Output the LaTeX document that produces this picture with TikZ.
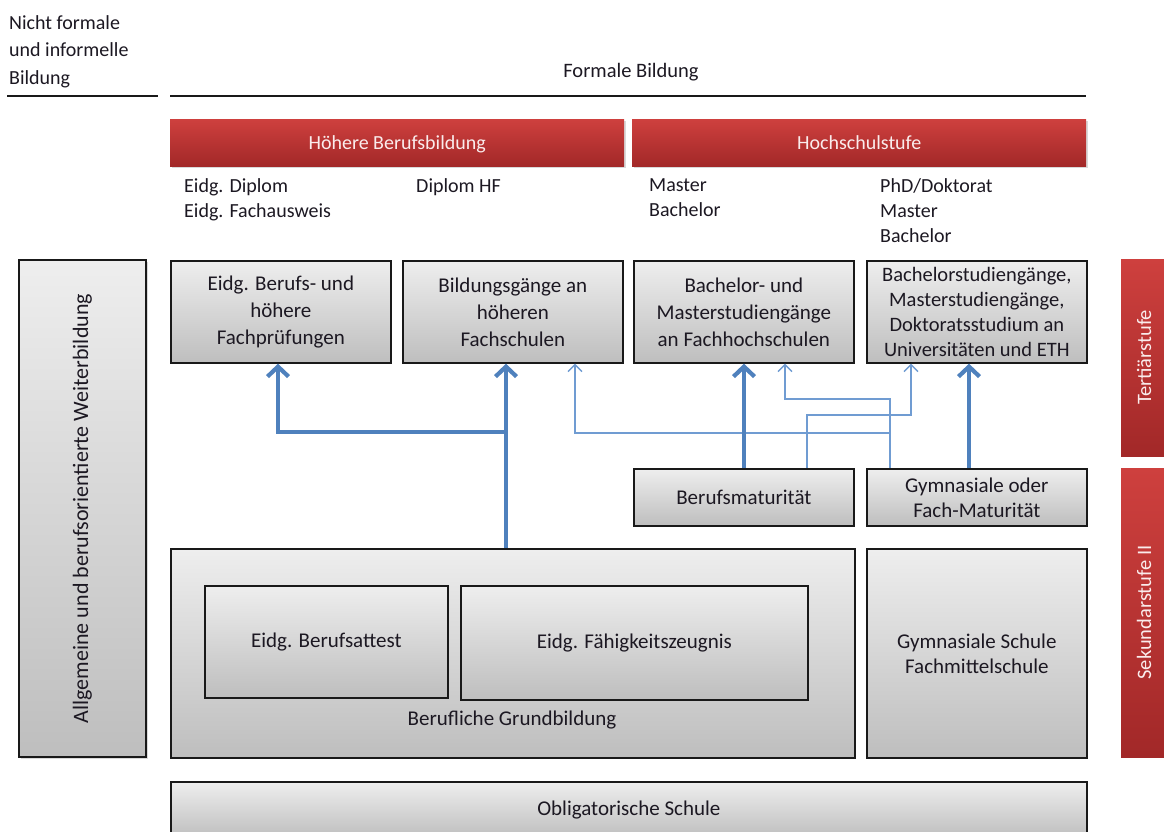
\documentclass[tikz,border=0pt]{standalone}
\usepackage{fontspec}
\setmainfont{Carlito}
\usetikzlibrary{arrows.meta,shadows,calc}
\definecolor{boxtop}{RGB}{238,238,238}
\definecolor{boxbot}{RGB}{190,190,190}
\definecolor{redtop}{RGB}{206,64,62}
\definecolor{redbot}{RGB}{162,40,40}
\definecolor{arrblue}{RGB}{79,129,189}
\definecolor{thinblue}{RGB}{112,156,210}
\definecolor{txt}{RGB}{28,24,34}
\definecolor{redtxt}{RGB}{250,236,236}
\begin{document}
\begin{tikzpicture}[x=1pt,y=-1pt,
  graybox/.style={draw=black!90, line width=1.7pt, top color=boxtop, bottom color=boxbot,
    drop shadow={shadow xshift=1.5pt, shadow yshift=-1.5pt, opacity=0.3},
    align=center, text=txt, font=\fontsize{21}{27}\selectfont, inner sep=0pt,
    minimum width=220pt, minimum height=102pt, anchor=north west},
  redbar/.style={draw=none, top color=redtop, bottom color=redbot,
    drop shadow={shadow xshift=1.5pt, shadow yshift=-1.5pt, opacity=0.3},
    text=redtxt, font=\fontsize{20}{25}\selectfont, inner sep=0pt, anchor=north west,
    text height=16pt, text depth=2pt,
    minimum width=454pt, minimum height=47pt},
  redtab/.style={draw=none, top color=redtop, bottom color=redbot, rotate=90,
    text=redtxt, font=\fontsize{20.5}{25}\selectfont, inner sep=0pt, minimum height=46pt},
  lbl/.style={align=left, text=txt, font=\fontsize{20}{25}\selectfont, inner sep=0pt, anchor=north west},
  thickarr/.style={draw=arrblue, line width=4.2pt, -{Straight Barb[length=10pt,width=21pt,line width=4.2pt]}},
  thinarr/.style={draw=thinblue, line width=1.5pt, -{Straight Barb[length=7pt,width=14pt,line width=1.3pt]}},
  rule/.style={draw=black!90, line width=1.4pt}
]
\useasboundingbox (0,0) rectangle (1164,832);

% headings
\node[lbl, font=\fontsize{20}{27.5}\selectfont] (nf) at (9,15) {Nicht formale\\und informelle\\Bildung};
\node[text=txt, font=\fontsize{20.5}{25}\selectfont, inner sep=0pt] (fb) at (631,72) {Formale Bildung};
\coordinate (r1a) at (7,96);
\coordinate (r1b) at (158,96);
\coordinate (r2a) at (170,96);
\coordinate (r2b) at (1086,96);
\draw[rule] (r1a) -- (r1b);
\draw[rule] (r2a) -- (r2b);

% red bars
\node[redbar] (hb) at (170,119) {Höhere Berufsbildung};
\node[redbar] (hs) at (632,119) {Hochschulstufe};

% labels under bars
\node[lbl] (l1) at (184,178) {Eidg. Diplom\\Eidg. Fachausweis};
\node[lbl] (l2) at (416,178) {Diplom HF};
\node[lbl] (l3) at (649,178) {Master\\Bachelor};
\node[lbl] (l4) at (880,178) {PhD/Doktorat\\Master\\Bachelor};

% tertiary boxes
\node[graybox] (b1) at (170,260) {Eidg. Berufs- und\\höhere\\Fachprüfungen};
\node[graybox] (b2) at (402,260) {Bildungsgänge an\\höheren\\Fachschulen};
\node[graybox] (b3) at (633,260) {Bachelor- und\\Masterstudiengänge\\an Fachhochschulen};
\node[graybox, font=\fontsize{20.5}{25}\selectfont] (b4) at (866,260) {Bachelorstudiengänge,\\Masterstudiengänge,\\Doktoratsstudium an\\Universitäten und ETH};

% left box
\node[graybox, anchor=center, rotate=90, minimum width=497pt, minimum height=127pt, font=\fontsize{22}{27}\selectfont] (wb) at (82.5,508.5) {Allgemeine und berufsorientierte Weiterbildung};

% maturity boxes
\node[graybox, minimum height=57pt, font=\fontsize{21}{25}\selectfont] (bm) at (633,468) {Berufsmaturität};
\node[graybox, minimum height=57pt, font=\fontsize{21}{25}\selectfont] (gm) at (866,468) {Gymnasiale oder\\Fach-Maturität};

% secondary II
\node[graybox, minimum width=684pt, minimum height=209pt] (gb) at (170,548) {};
\node[text=txt, font=\fontsize{21}{25}\selectfont, inner sep=0pt] (gbl) at (512,720) {Berufliche Grundbildung};
\node[graybox, minimum width=243pt, minimum height=112pt] (att) at (204,585) {Eidg. Berufsattest};
\node[graybox, minimum width=347pt, minimum height=114pt] (efz) at (460,585) {Eidg. Fähigkeitszeugnis};
\node[graybox, minimum height=209pt, font=\fontsize{21}{25}\selectfont] (gs) at (866,548) {Gymnasiale Schule\\Fachmittelschule};

% compulsory school
\node[graybox, minimum width=916pt, minimum height=56pt] (os) at (170,781) {Obligatorische Schule};

% right tabs
\node[redtab, minimum width=197pt] (tt) at (1144,357.5) {Tertiärstufe};
\node[redtab, minimum width=289pt] (sk) at (1144,612.5) {Sekundarstufe II};

% coordinates for connectors
\coordinate (xa) at (278,0);
\coordinate (xb) at (506,0);
\coordinate (xc) at (575,0);
\coordinate (xd) at (744,0);
\coordinate (xe) at (785,0);
\coordinate (xf) at (807,0);
\coordinate (xg) at (890,0);
\coordinate (xh) at (911,0);
\coordinate (xi) at (969,0);
\coordinate (ya) at (0,432);
\coordinate (yb) at (0,433);
\coordinate (yc) at (0,399);
\coordinate (yd) at (0,415);

% thin connectors
\draw[thinarr] (gm.north -| xg) |- (yb -| xc) -- (b2.south -| xc);
\draw[thinarr] (gm.north -| xg) |- (yc -| xe) -- (b3.south -| xe);
\draw[thinarr] (bm.north -| xf) |- (yd -| xh) -- (b4.south -| xh);

% thick connectors
\draw[thickarr] (gb.north -| xb) -- (b2.south -| xb);
\draw[thickarr] (ya -| xb) -| (b1.south -| xa);
\draw[thickarr] (bm.north -| xd) -- (b3.south -| xd);
\draw[thickarr] (gm.north -| xi) -- (b4.south -| xi);
\end{tikzpicture}
\end{document}
